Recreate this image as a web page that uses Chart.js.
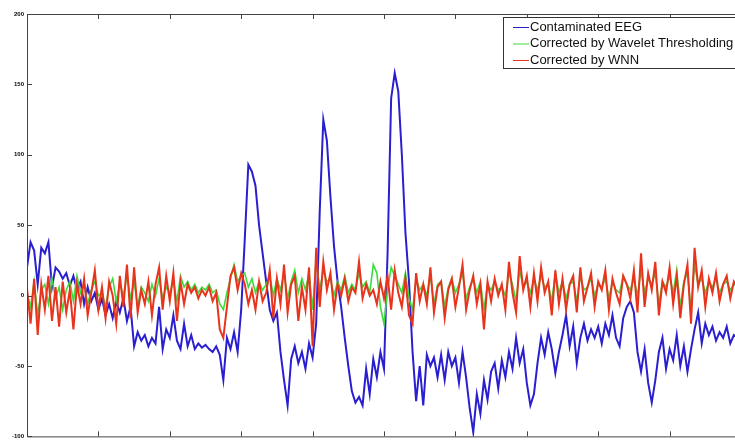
<!DOCTYPE html>
<html>
<head>
<meta charset="utf-8">
<script src="https://cdn.jsdelivr.net/npm/chart.js@4/dist/chart.umd.min.js"></script>
<style>
  html, body { margin: 0; padding: 0; background: #fff; overflow: hidden; }
  #wrap { width: 735px; height: 443px; overflow: hidden; }
</style>
</head>
<body>
<div id="wrap"><canvas id="eeg" width="760" height="443"></canvas></div>
<script>
// sample positions: every 5 units, 0..995
const step = 5;
const xTicks = [0, 100, 200, 300, 400, 500, 600, 700, 800, 900, 1000];
const yTicks = [-100, -50, 0, 50, 100, 150, 200];
const seriesNames = ['Contaminated EEG', 'Corrected by Wavelet Thresholding', 'Corrected by WNN'];

const contaminated = [
  20, 38, 32, 8, 34, 30, 38, 6, 20, 17, 12, 16, 7, 14, 4, 10, -6, 6, -4, 2,
  -10, -2, -14, -6, -16, -4, -12, -2, -18, -8, -36, -26, -32, -28, -36, -30, -34, -8, -38, -24,
  -30, -14, -32, -38, -20, -36, -28, -38, -34, -37, -35, -38, -40, -36, -42, -60, -30, -38, -26, -40,
  -10, 40, 93, 88, 78, 50, 30, 10, -10, -18, -12, -40, -60, -78, -45, -36, -48, -40, -52, -34,
  -44, -20, 60, 125, 110, 70, 35, 10, -8, -30, -50, -68, -76, -72, -78, -52, -70, -45, -58, -40,
  -52, 30, 140, 158, 145, 100, 45, 10, -40, -75, -50, -78, -42, -50, -44, -58, -42, -60, -40, -50,
  -44, -62, -40, -58, -80, -97, -70, -84, -60, -74, -54, -48, -66, -46, -58, -40, -52, -30, -48, -38,
  -62, -78, -70, -48, -30, -42, -26, -38, -55, -40, -28, -14, -36, -22, -48, -30, -20, -32, -24, -30,
  -22, -34, -20, -28, -14, -30, -36, -16, -8, -4, -12, -40, -54, -38, -62, -76, -60, -40, -30, -52,
  -38, -46, -28, -50, -36, -54, -38, -24, -12, -34, -20, -28, -22, -32, -26, -30, -22, -34, -28, -30
];
const wavelet = [
  2, -8, 10, -14, 4, 8, -6, 12, -2, 6, -10, 4, 10, -4, 14, 2, 8, -6, 4, 10,
  0, 2, -8, 6, 12, -4, 8, 0, 14, -2, 10, -8, 6, 2, -4, 8, 0, 12, -2, 6,
  2, 10, -4, 14, 6, 10, 4, 8, 2, 6, 4, 8, 2, 4, -6, -10, 2, 12, 22, 10,
  14, 16, 6, 12, 2, 10, 4, 8, 14, 0, 12, 4, 16, -2, 10, 18, 2, 12, 4, 16,
  -10, 26, 4, 18, 10, 12, 0, 10, 4, 14, 2, 8, 4, 16, 6, 10, 2, 22, 16, -8,
  -20, 4, 20, 14, 8, 2, 16, -2, -10, 12, 4, 8, 0, 14, -6, 8, 10, -8, 6, 12,
  2, 8, 16, -2, 6, 12, 2, 10, -10, 8, 4, 10, 4, 6, 0, 16, 8, -4, 18, 6,
  10, 2, 12, 4, 14, 6, 8, -4, 16, 2, 10, -2, 8, 10, -4, 14, 4, 6, 12, 0,
  8, 6, 12, -2, 10, 4, 2, 14, 8, 4, 12, 0, 18, 2, 12, 8, 16, -6, 10, 6,
  14, 2, 18, -8, 10, 16, -10, 22, 8, 12, 2, 10, 6, 12, 2, 8, 10, 4, 8, 6
];
const wnn = [
  5, -20, 12, -28, 8, -10, 14, -18, 6, -22, 10, -12, 4, -24, 8, -6, 12, -14, 2, 18,
  -10, 6, -16, 10, 0, -20, 14, -8, 22, -16, 20, -12, 4, -6, 10, -14, 8, 20, -10, 14,
  -4, 16, -18, 10, -6, 8, 2, 6, -2, 4, 0, 6, -4, 2, -24, -30, -8, 14, 20, 4,
  16, 8, -6, 4, -10, 10, -4, 2, 18, -16, 12, -6, 22, -12, 8, 14, -18, 6, -10, 20,
  -36, 34, -8, 24, 4, 16, -10, 8, 0, 12, -4, 6, 2, 24, -2, 8, 0, 4, -6, 10,
  -2, 14, -10, 18, 2, -8, 12, -14, -20, 16, -4, 8, -6, 20, -12, 6, 10, -16, 4, 12,
  -8, 6, 22, -10, 4, 14, -6, 8, -24, 10, -4, 12, 0, 8, -10, 24, 2, -12, 28, 4,
  14, -8, 16, -4, 20, 2, 10, -14, 18, -6, 12, -10, 8, 14, -12, 20, -4, 6, 16, -8,
  10, 4, 18, -10, 12, 2, -6, 14, 8, -2, 18, -12, 30, -8, 16, 4, 24, -14, 10, 2,
  20, -6, 14, -16, 8, 22, -20, 34, 6, 18, -8, 12, 2, 16, -4, 8, 14, -2, 10, 6
];

const colors = ['#2a1fd0', '#3ddc3d', '#e8341c'];

function toPoints(vals) {
  return vals.map((v, i) => ({ x: i * step, y: v }));
}

// inward ticks, frame and legend box like the matlab figure
const matlabFrame = {
  id: 'matlabFrame',
  afterDatasetsDraw(chart) {
    const { ctx, chartArea: a, scales } = chart;
    ctx.save();
    ctx.strokeStyle = '#444';
    ctx.lineWidth = 1;
    ctx.beginPath();
    ctx.rect(a.left + 0.5, a.top + 0.5, a.right - a.left, a.bottom - a.top);
    ctx.stroke();
    ctx.beginPath();
    xTicks.forEach(t => {
      const px = Math.round(scales.x.getPixelForValue(t)) + 0.5;
      ctx.moveTo(px, a.bottom); ctx.lineTo(px, a.bottom - 5);
      ctx.moveTo(px, a.top); ctx.lineTo(px, a.top + 5);
    });
    yTicks.forEach(t => {
      const py = Math.round(scales.y.getPixelForValue(t)) + 0.5;
      ctx.moveTo(a.left, py); ctx.lineTo(a.left + 5, py);
      ctx.moveTo(a.right, py); ctx.lineTo(a.right - 5, py);
    });
    ctx.stroke();

    // legend
    const bx = 503.5, by = 17.5, bw = 260, bh = 51;
    ctx.fillStyle = '#fff';
    ctx.fillRect(bx, by, bw, bh);
    ctx.strokeStyle = '#333';
    ctx.strokeRect(bx, by, bw, bh);
    ctx.font = '13px "Liberation Sans", Arial, sans-serif';
    ctx.textBaseline = 'middle';
    seriesNames.forEach((name, i) => {
      const ty = 27 + i * 16.5;
      ctx.strokeStyle = colors[i];
      ctx.lineWidth = 1;
      ctx.beginPath();
      ctx.moveTo(513, ty + 0.5); ctx.lineTo(529, ty + 0.5);
      ctx.stroke();
      ctx.fillStyle = '#111';
      ctx.fillText(name, 530, ty);
    });
    ctx.restore();
  }
};

new Chart(document.getElementById('eeg'), {
  type: 'line',
  data: {
    datasets: [
      { label: seriesNames[0], data: toPoints(contaminated), borderColor: colors[0], borderWidth: 2, order: 2 },
      { label: seriesNames[1], data: toPoints(wavelet), borderColor: colors[1], borderWidth: 1.6, order: 1 },
      { label: seriesNames[2], data: toPoints(wnn), borderColor: colors[2], borderWidth: 2, order: 0 }
    ]
  },
  options: {
    responsive: false,
    animation: false,
    events: [],
    layout: { padding: { top: 14, right: 19, left: 0, bottom: 0 } },
    elements: { point: { radius: 0 }, line: { tension: 0 } },
    plugins: { legend: { display: false }, tooltip: { enabled: false } },
    scales: {
      x: {
        type: 'linear', min: 0, max: 1000,
        grid: { display: false, drawTicks: false },
        border: { display: false },
        ticks: { display: false, stepSize: 100 },
        afterFit(scale) { scale.height = 6; }
      },
      y: {
        min: -100, max: 200,
        grid: { display: false, drawTicks: false },
        border: { display: false },
        ticks: {
          stepSize: 50, padding: 3, color: '#000',
          font: { size: 6, weight: 'bold', family: '"Liberation Sans", Arial, sans-serif' }
        },
        afterFit(scale) { scale.width = 27; }
      }
    }
  },
  plugins: [matlabFrame]
});
</script>
</body>
</html>
